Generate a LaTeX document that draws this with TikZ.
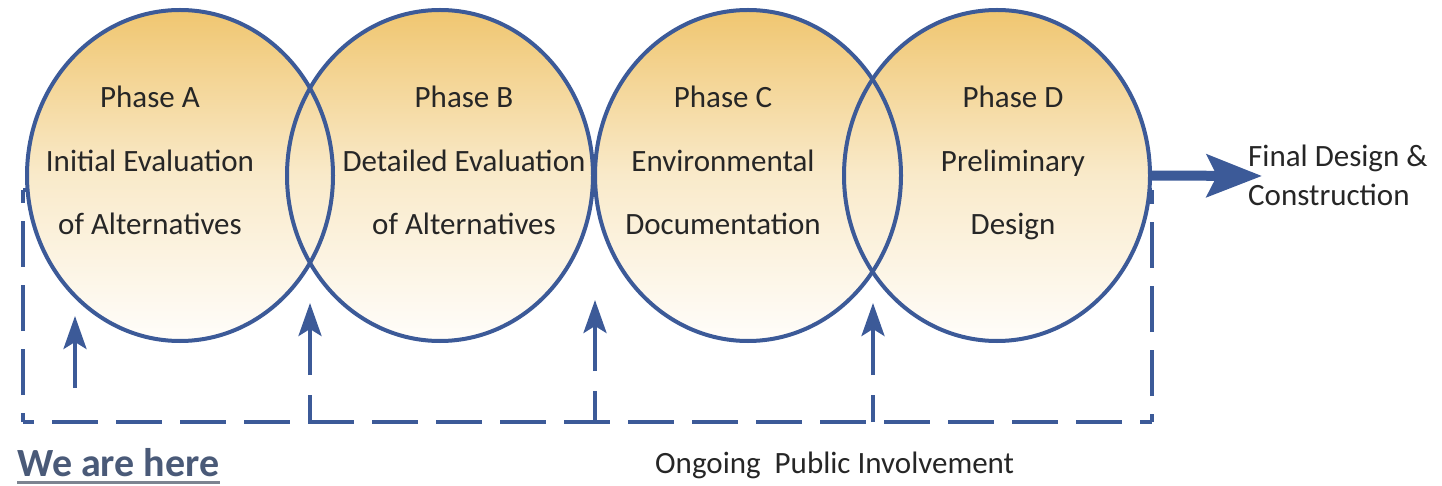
\documentclass[tikz,border=0pt]{standalone}
\usepackage{fontspec}
\setmainfont{Carlito}
\usetikzlibrary{shapes.geometric,arrows.meta}
\definecolor{pblue}{RGB}{60,90,152}
\definecolor{gtop}{RGB}{240,198,112}
\definecolor{gmid}{RGB}{249,234,202}
\definecolor{gbot}{RGB}{255,253,250}
\definecolor{wecol}{RGB}{74,90,120}
\definecolor{ulcol}{RGB}{125,132,145}
\begin{document}
\begin{tikzpicture}[x=1pt,y=-1pt,
  phasefill/.style={ellipse, minimum width=306pt, minimum height=331pt, inner sep=0pt,
    top color=gtop, bottom color=gbot, middle color=gmid},
  phaseline/.style={draw=pblue, line width=4pt},
  lbl/.style={font=\fontsize{31}{63.5}\selectfont, align=center, anchor=base, inner sep=0pt, text=black!85},
  plain/.style={font=\fontsize{31}{39}\selectfont, anchor=base west, inner sep=0pt, text=black!85},
  dashbox/.style={draw=pblue, line width=4pt, dash pattern=on 46pt off 18pt},
  stub/.style={draw=pblue, line width=4pt},
  uparrow/.style={draw=pblue, line width=4pt, -{Stealth[length=33pt,width=23pt,inset=7pt]}},
  bigarrow/.style={draw=pblue, line width=10pt, -{Stealth[length=55pt,width=42pt,inset=10pt]}},
]
\useasboundingbox (0,0) rectangle (1442,486);

% dashed frame (top edge hidden behind the phases)
\coordinate (TL) at (23,190);
\coordinate (TR) at (1152,190);
\coordinate (BR) at (1152,422);
\coordinate (BL) at (23,422);
\draw[stub] (TL) -- (TR);
\draw[dashbox, dash phase=35pt] (BL) -- (BR);
\draw[dashbox, dash phase=37pt] (BL) -- (TL);
\draw[dashbox, dash phase=38pt] (BR) -- (TR);

% phase fills
\node[phasefill] (A) at (180,175.5) {};
\node[phasefill] (B) at (440,175.5) {};
\node[phasefill] (C) at (748,175.5) {};
\node[phasefill] (D) at (997,175.5) {};

% phase outlines
\foreach \n in {A,B,C,D}
  \draw[phaseline] (\n.center) ellipse [x radius=153pt, y radius=165.5pt];

% phase texts (base = baseline of the last line)
\node[lbl] (tA) at (150,235) {Phase A\\Initial Evaluation\\of Alternatives};
\node[lbl] (tB) at (464,235) {Phase B\\Detailed Evaluation\\of Alternatives};
\node[lbl] (tC) at (723,235) {Phase C\\Environmental\\Documentation};
\node[lbl] (tD) at (1013,235) {Phase D\\Preliminary\\Design};

% final arrow
\coordinate (fin) at (1262,176);
\draw[bigarrow] (D.east) -- (fin);
\node[plain, align=left] (fd) at (1248,206) {Final Design \&\\Construction};

% up arrows
\coordinate (a1s) at (75,388);
\coordinate (a1e) at (75,316);
\draw[uparrow] (a1s) -- (a1e);

\coordinate (s2b) at (310,422); \coordinate (s2t) at (310,395);
\coordinate (a2s) at (310,375); \coordinate (a2e) at (310,303);
\draw[stub] (s2b) -- (s2t);
\draw[uparrow] (a2s) -- (a2e);

\coordinate (s3b) at (595,422); \coordinate (s3t) at (595,391);
\coordinate (a3s) at (595,371); \coordinate (a3e) at (595,300);
\draw[stub] (s3b) -- (s3t);
\draw[uparrow] (a3s) -- (a3e);

\coordinate (s4b) at (873,422); \coordinate (s4t) at (873,395);
\coordinate (a4s) at (873,375); \coordinate (a4e) at (873,303);
\draw[stub] (s4b) -- (s4t);
\draw[uparrow] (a4s) -- (a4e);

% bottom texts
\node[plain] (opi) at (655,473) {Ongoing\ \ Public Involvement};
\node[anchor=base west, inner sep=0pt, font=\fontsize{40}{46}\selectfont\bfseries, text=wecol] (we) at (17,476) {We are here};
\draw[ulcol, line width=3pt] ([yshift=-6pt]we.base west) -- ([yshift=-6pt]we.base east);
\end{tikzpicture}
\end{document}
